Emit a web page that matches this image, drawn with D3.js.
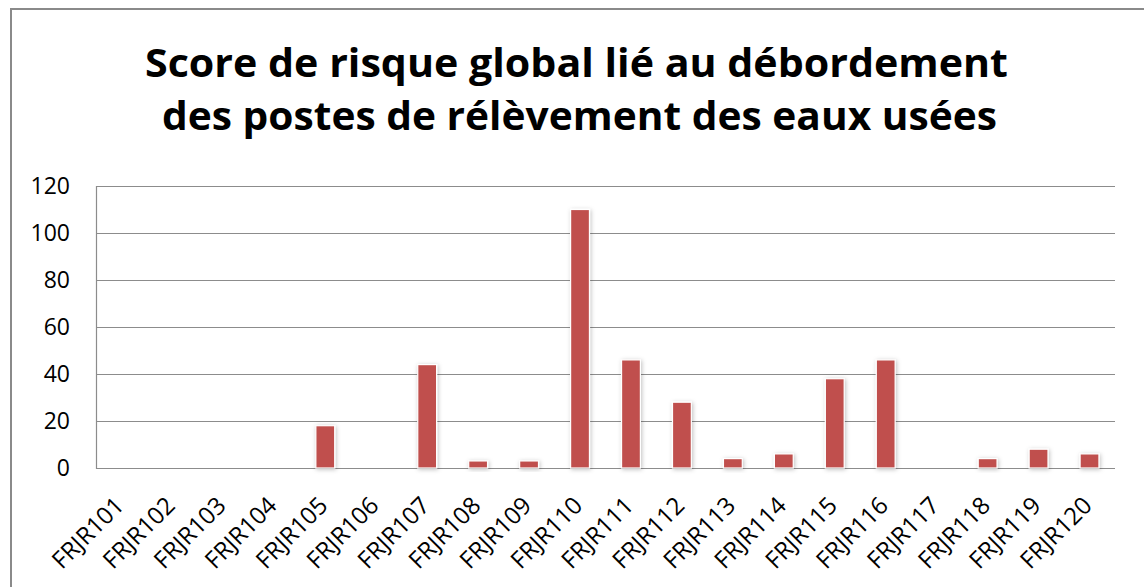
<!DOCTYPE html>
<html>
<head>
<meta charset="utf-8">
<script src="https://cdn.jsdelivr.net/npm/d3@7"></script>
<style>
  body { margin: 0; background: #fff; }
  text { font-family: "Open Sans", "Noto Sans", sans-serif; }
</style>
</head>
<body>
<div id="chart"></div>
<script>
//chart data
const categories = ["FRJR101","FRJR102","FRJR103","FRJR104","FRJR105","FRJR106","FRJR107","FRJR108","FRJR109","FRJR110",
                    "FRJR111","FRJR112","FRJR113","FRJR114","FRJR115","FRJR116","FRJR117","FRJR118","FRJR119","FRJR120"];
const scores = [0, 0, 0, 0, 18, 0, 44, 3, 3, 110, 46, 28, 4, 6, 38, 46, 0, 4, 8, 6];
const yTicks = [0, 20, 40, 60, 80, 100, 120];
const titleLines = ["Score de risque global lié au débordement", "des postes de rélèvement des eaux usées"];

const width = 1144, height = 587;
const plot = {left: 96, right: 1115, top: 186, bottom: 468};

let svg = d3.select("#chart").append("svg")
            .attr("width", width)
            .attr("height", height);

//drop shadow for bars
let defs = svg.append("defs");
let shadow = defs.append("filter").attr("id", "shadow")
                 .attr("x", "-50%").attr("y", "-50%").attr("width", "200%").attr("height", "200%");
shadow.append("feDropShadow")
      .attr("dx", 1).attr("dy", 1).attr("stdDeviation", 2)
      .attr("flood-color", "#000").attr("flood-opacity", 0.25);

//outer frame
svg.append("rect")
   .attr("x", 11).attr("y", 9)
   .attr("width", width + 20).attr("height", height + 20)
   .attr("fill", "none")
   .attr("stroke", "#8a8a8a")
   .attr("stroke-width", 2);

//title
svg.selectAll(".title")
   .data(titleLines)
   .enter()
   .append("text")
   .attr("class", "title")
   .attr("x", function(d, i) { return i === 0 ? 145 : 162 })
   .attr("y", function(d, i) { return 77 + i * 53 })
   .attr("textLength", function(d, i) { return i === 0 ? 863 : 835 })
   .attr("lengthAdjust", "spacingAndGlyphs")
   .style("font-size", "39px")
   .style("font-weight", "bold")
   .style("fill", "#000")
   .text(function(d) { return d });

//scales
let x = d3.scaleBand()
          .domain(categories)
          .range([plot.left, plot.right])
          .paddingInner(0.63)
          .paddingOuter(0.315);

let y = d3.scaleLinear()
          .domain([0, 120])
          .range([plot.bottom, plot.top]);

//gridlines
svg.append("g")
   .selectAll("line")
   .data(yTicks)
   .enter()
   .append("line")
   .attr("x1", plot.left)
   .attr("x2", plot.right)
   .attr("y1", function(d) { return y(d) + 0.5 })
   .attr("y2", function(d) { return y(d) + 0.5 })
   .attr("stroke", "#8c8c8c")
   .attr("stroke-width", 1.2);

//left plot border
svg.append("line")
   .attr("x1", plot.left + 0.5).attr("x2", plot.left + 0.5)
   .attr("y1", plot.top).attr("y2", plot.bottom + 1)
   .attr("stroke", "#8c8c8c")
   .attr("stroke-width", 1.2);

//y axis labels
let yAxis = svg.append("g")
               .attr("transform", `translate(${plot.left},0)`)
               .call(d3.axisLeft(y).tickValues(yTicks).tickSize(0).tickPadding(26));
yAxis.select(".domain").remove();
yAxis.selectAll("text")
     .style("font-size", "23px")
     .style("font-family", "'Open Sans', sans-serif")
     .attr("fill", "#000");

//x axis labels
let xAxis = svg.append("g")
               .attr("transform", `translate(0,${plot.bottom})`)
               .call(d3.axisBottom(x).tickSize(0));
xAxis.select(".domain").remove();
xAxis.selectAll("text")
     .attr("y", 0)
     .attr("dy", 0)
     .attr("text-anchor", "end")
     .attr("transform", "translate(4,39) rotate(-45)")
     .style("font-size", "24px")
     .style("font-family", "'Open Sans', sans-serif")
     .attr("fill", "#000");

//bars
svg.append("g")
   .selectAll("rect")
   .data(categories.map(function(c, i) { return [c, scores[i]] }).filter(function(d) { return d[1] > 0 }))
   .enter()
   .append("rect")
   .attr("x", function(d) { return x(d[0]) })
   .attr("y", function(d) { return y(d[1]) })
   .attr("width", x.bandwidth())
   .attr("height", function(d) { return y(0) - y(d[1]) })
   .attr("fill", "#c0504d")
   .attr("stroke", "#fff")
   .attr("stroke-width", 1.2)
   .attr("filter", "url(#shadow)");
</script>
</body>
</html>
